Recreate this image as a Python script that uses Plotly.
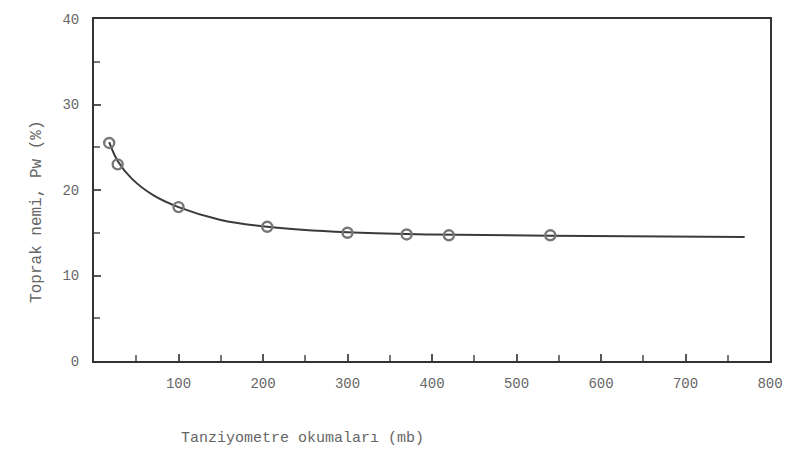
import plotly.graph_objects as go

# measured points (tensiometer reading mb, soil moisture %)
x_points = [18, 28, 100, 205, 300, 370, 420, 540]
y_points = [25.5, 23.0, 18.0, 15.7, 15.0, 14.8, 14.7, 14.7]

# fitted curve
curve_x = [18, 28, 45, 70, 100, 150, 205, 300, 400, 540, 770]
curve_y = [25.6, 23.4, 21.3, 19.4, 18.0, 16.5, 15.7, 15.05, 14.8, 14.65, 14.5]

x_ticks = [100, 200, 300, 400, 500, 600, 700, 800]
y_ticks = [0, 10, 20, 30, 40]

font_face = "Liberation Mono, DejaVu Sans Mono, monospace"

fig = go.Figure()
fig.add_trace(go.Scatter(
    x=curve_x, y=curve_y, mode="lines",
    line=dict(color="#3a3a3a", width=2, shape="spline", smoothing=1.0),
    hoverinfo="skip", showlegend=False))
fig.add_trace(go.Scatter(
    x=x_points, y=y_points, mode="markers",
    marker=dict(symbol="circle-open", size=10, color="#777777", line=dict(width=2.4, color="#777777")),
    showlegend=False))

fig.update_layout(
    width=795, height=463,
    margin=dict(l=94, r=17, t=14, b=102),
    paper_bgcolor="white", plot_bgcolor="white",
    font=dict(family=font_face, color="#666666", size=14),
    xaxis=dict(range=[0, 800], tickvals=x_ticks, ticks="inside", ticklen=7, tickwidth=1.5,
               tickcolor="#555555", showgrid=False, zeroline=False,
               showline=True, linecolor="#333333", linewidth=2, mirror=True,
               minor=dict(dtick=50, tick0=0, ticks="inside", ticklen=6, tickcolor="#777777"),
               tickfont=dict(size=14, color="#666666"), ticklabelstandoff=8),
    yaxis=dict(range=[0, 40], tickvals=y_ticks, ticks="inside", ticklen=7, tickwidth=1.5,
               tickcolor="#555555", showgrid=False, zeroline=False,
               showline=True, linecolor="#333333", linewidth=2, mirror=True,
               minor=dict(dtick=5, tick0=0, ticks="inside", ticklen=6, tickcolor="#777777"),
               tickfont=dict(size=14, color="#666666"), ticklabelstandoff=10),
)

fig.add_annotation(text="Tanziyometre okumaları (mb)", xref="paper", yref="paper",
                   x=(305 - 94) / 684, y=-(440 - 361) / 347, xanchor="center", yanchor="middle",
                   showarrow=False, font=dict(size=15, color="#666666", family=font_face))
fig.add_annotation(text="Toprak nemi, Pw (%)", xref="paper", yref="paper",
                   x=-(94 - 36) / 684, y=(361 - 210) / 347, xanchor="center", yanchor="middle",
                   showarrow=False, textangle=-90,
                   font=dict(size=16, color="#666666", family=font_face))

fig.write_html("out.html")
